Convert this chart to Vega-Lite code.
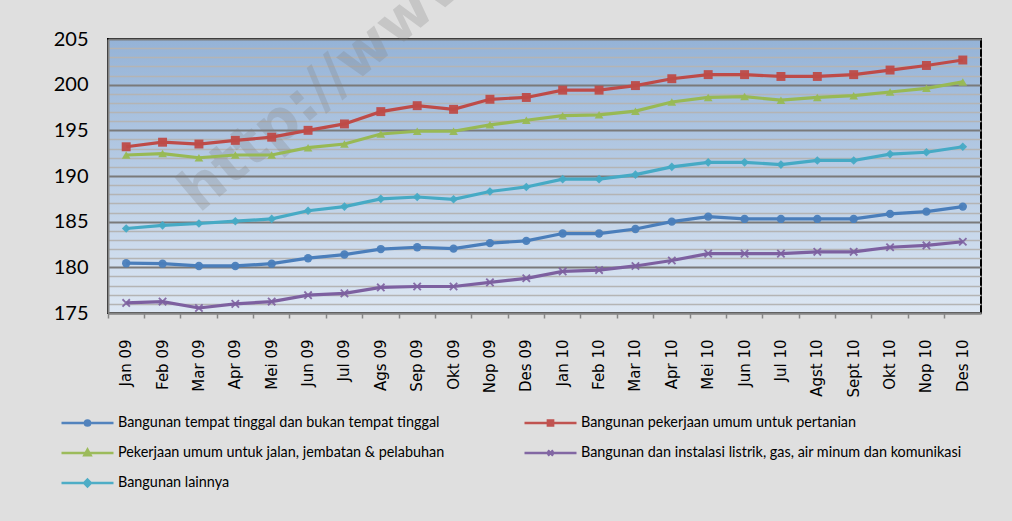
{
  "$schema": "https://vega.github.io/schema/vega-lite/v6.json",
  "width": 873,
  "height": 274,
  "autosize": {"type": "none"},
  "padding": {"left": 108, "top": 39, "right": 31, "bottom": 208},
  "background": "#dfdfdf",
  "view": {
    "stroke": "#000000",
    "strokeWidth": 2,
    "fill": {
      "gradient": "linear",
      "x1": 0, "y1": 0, "x2": 0, "y2": 1,
      "stops": [
        {"offset": 0, "color": "#95b3d7"},
        {"offset": 1, "color": "#dde7f3"}
      ]
    }
  },
  "data": {
    "values": [
      {"month": "Jan 09", "series": "Bangunan tempat tinggal dan bukan tempat tinggal", "value": 180.45},
      {"month": "Feb 09", "series": "Bangunan tempat tinggal dan bukan tempat tinggal", "value": 180.4},
      {"month": "Mar 09", "series": "Bangunan tempat tinggal dan bukan tempat tinggal", "value": 180.15},
      {"month": "Apr 09", "series": "Bangunan tempat tinggal dan bukan tempat tinggal", "value": 180.15},
      {"month": "Mei 09", "series": "Bangunan tempat tinggal dan bukan tempat tinggal", "value": 180.4},
      {"month": "Jun 09", "series": "Bangunan tempat tinggal dan bukan tempat tinggal", "value": 181.0},
      {"month": "Jul 09", "series": "Bangunan tempat tinggal dan bukan tempat tinggal", "value": 181.4},
      {"month": "Ags 09", "series": "Bangunan tempat tinggal dan bukan tempat tinggal", "value": 182.0},
      {"month": "Sep 09", "series": "Bangunan tempat tinggal dan bukan tempat tinggal", "value": 182.2},
      {"month": "Okt 09", "series": "Bangunan tempat tinggal dan bukan tempat tinggal", "value": 182.05},
      {"month": "Nop 09", "series": "Bangunan tempat tinggal dan bukan tempat tinggal", "value": 182.65},
      {"month": "Des 09", "series": "Bangunan tempat tinggal dan bukan tempat tinggal", "value": 182.9},
      {"month": "Jan 10", "series": "Bangunan tempat tinggal dan bukan tempat tinggal", "value": 183.7},
      {"month": "Feb 10", "series": "Bangunan tempat tinggal dan bukan tempat tinggal", "value": 183.7},
      {"month": "Mar 10", "series": "Bangunan tempat tinggal dan bukan tempat tinggal", "value": 184.2},
      {"month": "Apr 10", "series": "Bangunan tempat tinggal dan bukan tempat tinggal", "value": 185.0},
      {"month": "Mei 10", "series": "Bangunan tempat tinggal dan bukan tempat tinggal", "value": 185.55},
      {"month": "Jun 10", "series": "Bangunan tempat tinggal dan bukan tempat tinggal", "value": 185.3},
      {"month": "Jul 10", "series": "Bangunan tempat tinggal dan bukan tempat tinggal", "value": 185.3},
      {"month": "Agst 10", "series": "Bangunan tempat tinggal dan bukan tempat tinggal", "value": 185.3},
      {"month": "Sept 10", "series": "Bangunan tempat tinggal dan bukan tempat tinggal", "value": 185.3},
      {"month": "Okt 10", "series": "Bangunan tempat tinggal dan bukan tempat tinggal", "value": 185.85},
      {"month": "Nop 10", "series": "Bangunan tempat tinggal dan bukan tempat tinggal", "value": 186.1},
      {"month": "Des 10", "series": "Bangunan tempat tinggal dan bukan tempat tinggal", "value": 186.65},

      {"month": "Jan 09", "series": "Bangunan pekerjaan umum untuk pertanian", "value": 193.2},
      {"month": "Feb 09", "series": "Bangunan pekerjaan umum untuk pertanian", "value": 193.7},
      {"month": "Mar 09", "series": "Bangunan pekerjaan umum untuk pertanian", "value": 193.5},
      {"month": "Apr 09", "series": "Bangunan pekerjaan umum untuk pertanian", "value": 193.9},
      {"month": "Mei 09", "series": "Bangunan pekerjaan umum untuk pertanian", "value": 194.25},
      {"month": "Jun 09", "series": "Bangunan pekerjaan umum untuk pertanian", "value": 195.0},
      {"month": "Jul 09", "series": "Bangunan pekerjaan umum untuk pertanian", "value": 195.7},
      {"month": "Ags 09", "series": "Bangunan pekerjaan umum untuk pertanian", "value": 197.05},
      {"month": "Sep 09", "series": "Bangunan pekerjaan umum untuk pertanian", "value": 197.7},
      {"month": "Okt 09", "series": "Bangunan pekerjaan umum untuk pertanian", "value": 197.3},
      {"month": "Nop 09", "series": "Bangunan pekerjaan umum untuk pertanian", "value": 198.4},
      {"month": "Des 09", "series": "Bangunan pekerjaan umum untuk pertanian", "value": 198.6},
      {"month": "Jan 10", "series": "Bangunan pekerjaan umum untuk pertanian", "value": 199.4},
      {"month": "Feb 10", "series": "Bangunan pekerjaan umum untuk pertanian", "value": 199.4},
      {"month": "Mar 10", "series": "Bangunan pekerjaan umum untuk pertanian", "value": 199.9},
      {"month": "Apr 10", "series": "Bangunan pekerjaan umum untuk pertanian", "value": 200.65},
      {"month": "Mei 10", "series": "Bangunan pekerjaan umum untuk pertanian", "value": 201.1},
      {"month": "Jun 10", "series": "Bangunan pekerjaan umum untuk pertanian", "value": 201.1},
      {"month": "Jul 10", "series": "Bangunan pekerjaan umum untuk pertanian", "value": 200.9},
      {"month": "Agst 10", "series": "Bangunan pekerjaan umum untuk pertanian", "value": 200.9},
      {"month": "Sept 10", "series": "Bangunan pekerjaan umum untuk pertanian", "value": 201.1},
      {"month": "Okt 10", "series": "Bangunan pekerjaan umum untuk pertanian", "value": 201.6},
      {"month": "Nop 10", "series": "Bangunan pekerjaan umum untuk pertanian", "value": 202.1},
      {"month": "Des 10", "series": "Bangunan pekerjaan umum untuk pertanian", "value": 202.7},

      {"month": "Jan 09", "series": "Pekerjaan umum untuk jalan, jembatan & pelabuhan", "value": 192.3},
      {"month": "Feb 09", "series": "Pekerjaan umum untuk jalan, jembatan & pelabuhan", "value": 192.45},
      {"month": "Mar 09", "series": "Pekerjaan umum untuk jalan, jembatan & pelabuhan", "value": 192.0},
      {"month": "Apr 09", "series": "Pekerjaan umum untuk jalan, jembatan & pelabuhan", "value": 192.3},
      {"month": "Mei 09", "series": "Pekerjaan umum untuk jalan, jembatan & pelabuhan", "value": 192.3},
      {"month": "Jun 09", "series": "Pekerjaan umum untuk jalan, jembatan & pelabuhan", "value": 193.1},
      {"month": "Jul 09", "series": "Pekerjaan umum untuk jalan, jembatan & pelabuhan", "value": 193.5},
      {"month": "Ags 09", "series": "Pekerjaan umum untuk jalan, jembatan & pelabuhan", "value": 194.6},
      {"month": "Sep 09", "series": "Pekerjaan umum untuk jalan, jembatan & pelabuhan", "value": 194.9},
      {"month": "Okt 09", "series": "Pekerjaan umum untuk jalan, jembatan & pelabuhan", "value": 194.9},
      {"month": "Nop 09", "series": "Pekerjaan umum untuk jalan, jembatan & pelabuhan", "value": 195.6},
      {"month": "Des 09", "series": "Pekerjaan umum untuk jalan, jembatan & pelabuhan", "value": 196.1},
      {"month": "Jan 10", "series": "Pekerjaan umum untuk jalan, jembatan & pelabuhan", "value": 196.6},
      {"month": "Feb 10", "series": "Pekerjaan umum untuk jalan, jembatan & pelabuhan", "value": 196.7},
      {"month": "Mar 10", "series": "Pekerjaan umum untuk jalan, jembatan & pelabuhan", "value": 197.1},
      {"month": "Apr 10", "series": "Pekerjaan umum untuk jalan, jembatan & pelabuhan", "value": 198.1},
      {"month": "Mei 10", "series": "Pekerjaan umum untuk jalan, jembatan & pelabuhan", "value": 198.6},
      {"month": "Jun 10", "series": "Pekerjaan umum untuk jalan, jembatan & pelabuhan", "value": 198.7},
      {"month": "Jul 10", "series": "Pekerjaan umum untuk jalan, jembatan & pelabuhan", "value": 198.3},
      {"month": "Agst 10", "series": "Pekerjaan umum untuk jalan, jembatan & pelabuhan", "value": 198.6},
      {"month": "Sept 10", "series": "Pekerjaan umum untuk jalan, jembatan & pelabuhan", "value": 198.8},
      {"month": "Okt 10", "series": "Pekerjaan umum untuk jalan, jembatan & pelabuhan", "value": 199.2},
      {"month": "Nop 10", "series": "Pekerjaan umum untuk jalan, jembatan & pelabuhan", "value": 199.6},
      {"month": "Des 10", "series": "Pekerjaan umum untuk jalan, jembatan & pelabuhan", "value": 200.3},

      {"month": "Jan 09", "series": "Bangunan dan instalasi listrik, gas, air minum dan komunikasi", "value": 176.1},
      {"month": "Feb 09", "series": "Bangunan dan instalasi listrik, gas, air minum dan komunikasi", "value": 176.25},
      {"month": "Mar 09", "series": "Bangunan dan instalasi listrik, gas, air minum dan komunikasi", "value": 175.55},
      {"month": "Apr 09", "series": "Bangunan dan instalasi listrik, gas, air minum dan komunikasi", "value": 176.0},
      {"month": "Mei 09", "series": "Bangunan dan instalasi listrik, gas, air minum dan komunikasi", "value": 176.25},
      {"month": "Jun 09", "series": "Bangunan dan instalasi listrik, gas, air minum dan komunikasi", "value": 176.95},
      {"month": "Jul 09", "series": "Bangunan dan instalasi listrik, gas, air minum dan komunikasi", "value": 177.15},
      {"month": "Ags 09", "series": "Bangunan dan instalasi listrik, gas, air minum dan komunikasi", "value": 177.8},
      {"month": "Sep 09", "series": "Bangunan dan instalasi listrik, gas, air minum dan komunikasi", "value": 177.9},
      {"month": "Okt 09", "series": "Bangunan dan instalasi listrik, gas, air minum dan komunikasi", "value": 177.9},
      {"month": "Nop 09", "series": "Bangunan dan instalasi listrik, gas, air minum dan komunikasi", "value": 178.35},
      {"month": "Des 09", "series": "Bangunan dan instalasi listrik, gas, air minum dan komunikasi", "value": 178.8},
      {"month": "Jan 10", "series": "Bangunan dan instalasi listrik, gas, air minum dan komunikasi", "value": 179.55},
      {"month": "Feb 10", "series": "Bangunan dan instalasi listrik, gas, air minum dan komunikasi", "value": 179.7},
      {"month": "Mar 10", "series": "Bangunan dan instalasi listrik, gas, air minum dan komunikasi", "value": 180.15},
      {"month": "Apr 10", "series": "Bangunan dan instalasi listrik, gas, air minum dan komunikasi", "value": 180.75},
      {"month": "Mei 10", "series": "Bangunan dan instalasi listrik, gas, air minum dan komunikasi", "value": 181.5},
      {"month": "Jun 10", "series": "Bangunan dan instalasi listrik, gas, air minum dan komunikasi", "value": 181.5},
      {"month": "Jul 10", "series": "Bangunan dan instalasi listrik, gas, air minum dan komunikasi", "value": 181.5},
      {"month": "Agst 10", "series": "Bangunan dan instalasi listrik, gas, air minum dan komunikasi", "value": 181.7},
      {"month": "Sept 10", "series": "Bangunan dan instalasi listrik, gas, air minum dan komunikasi", "value": 181.7},
      {"month": "Okt 10", "series": "Bangunan dan instalasi listrik, gas, air minum dan komunikasi", "value": 182.2},
      {"month": "Nop 10", "series": "Bangunan dan instalasi listrik, gas, air minum dan komunikasi", "value": 182.4},
      {"month": "Des 10", "series": "Bangunan dan instalasi listrik, gas, air minum dan komunikasi", "value": 182.8},

      {"month": "Jan 09", "series": "Bangunan lainnya", "value": 184.25},
      {"month": "Feb 09", "series": "Bangunan lainnya", "value": 184.6},
      {"month": "Mar 09", "series": "Bangunan lainnya", "value": 184.8},
      {"month": "Apr 09", "series": "Bangunan lainnya", "value": 185.05},
      {"month": "Mei 09", "series": "Bangunan lainnya", "value": 185.3},
      {"month": "Jun 09", "series": "Bangunan lainnya", "value": 186.2},
      {"month": "Jul 09", "series": "Bangunan lainnya", "value": 186.65},
      {"month": "Ags 09", "series": "Bangunan lainnya", "value": 187.5},
      {"month": "Sep 09", "series": "Bangunan lainnya", "value": 187.7},
      {"month": "Okt 09", "series": "Bangunan lainnya", "value": 187.45},
      {"month": "Nop 09", "series": "Bangunan lainnya", "value": 188.3},
      {"month": "Des 09", "series": "Bangunan lainnya", "value": 188.8},
      {"month": "Jan 10", "series": "Bangunan lainnya", "value": 189.65},
      {"month": "Feb 10", "series": "Bangunan lainnya", "value": 189.65},
      {"month": "Mar 10", "series": "Bangunan lainnya", "value": 190.15},
      {"month": "Apr 10", "series": "Bangunan lainnya", "value": 191.0},
      {"month": "Mei 10", "series": "Bangunan lainnya", "value": 191.5},
      {"month": "Jun 10", "series": "Bangunan lainnya", "value": 191.5},
      {"month": "Jul 10", "series": "Bangunan lainnya", "value": 191.25},
      {"month": "Agst 10", "series": "Bangunan lainnya", "value": 191.7},
      {"month": "Sept 10", "series": "Bangunan lainnya", "value": 191.7},
      {"month": "Okt 10", "series": "Bangunan lainnya", "value": 192.4},
      {"month": "Nop 10", "series": "Bangunan lainnya", "value": 192.6},
      {"month": "Des 10", "series": "Bangunan lainnya", "value": 193.2}
    ]
  },
  "resolve": {
    "axis": {"x": "independent", "y": "independent"}
  },
  "layer": [
    {
      "data": {"values": [{"watermark": "http://www"}]},
      "mark": {
        "type": "text",
        "font": "DejaVu Sans",
        "fontWeight": "bold",
        "fontSize": 58,
        "angle": -40,
        "align": "left",
        "baseline": "alphabetic",
        "color": "#808080",
        "opacity": 0.26
      },
      "encoding": {
        "text": {"field": "watermark", "type": "nominal"},
        "x": {"datum": "Mar 09", "type": "nominal", "axis": null},
        "y": {"datum": 185.85, "type": "quantitative", "axis": null}
      }
    },
    {
      "mark": {"type": "line", "strokeWidth": 3.2},
      "encoding": {
        "x": {
          "field": "month",
          "type": "nominal",
          "sort": null,
          "scale": {
            "type": "band",
            "paddingInner": 0,
            "paddingOuter": 0,
            "domain": ["Jan 09","Feb 09","Mar 09","Apr 09","Mei 09","Jun 09","Jul 09","Ags 09","Sep 09","Okt 09","Nop 09","Des 09","Jan 10","Feb 10","Mar 10","Apr 10","Mei 10","Jun 10","Jul 10","Agst 10","Sept 10","Okt 10","Nop 10","Des 10"]
          },
          "axis": {
            "orient": "bottom",
            "title": null,
            "ticks": false,
            "domain": true,
            "domainColor": "#868686",
            "domainWidth": 2,
            "grid": false,
            "labelAngle": -90,
            "labelAlign": "right",
            "labelBaseline": "middle",
            "labelPadding": 26,
            "labelFont": "DejaVu Sans",
            "labelFontSize": 15,
            "labelColor": "#000000"
          }
        },
        "y": {
          "field": "value",
          "type": "quantitative",
          "scale": {"domain": [175, 205], "nice": false, "zero": false},
          "axis": {
            "orient": "left",
            "title": null,
            "values": [175,176,177,178,179,180,181,182,183,184,185,186,187,188,189,190,191,192,193,194,195,196,197,198,199,200,201,202,203,204,205],
            "labelExpr": "datum.value % 5 === 0 ? datum.label : ''",
            "ticks": false,
            "grid": true,
            "gridColor": {"condition": {"test": "datum.value % 5 === 0", "value": "#7a7a7a"}, "value": "#b4b4b4"},
            "gridWidth": {"condition": {"test": "datum.value % 5 === 0", "value": 2}, "value": 1.5},
            "domainColor": "#868686",
            "domainWidth": 2,
            "labelFont": "Lato",
            "labelFontSize": 20,
            "labelColor": "#000000",
            "labelPadding": 20
          }
        },
        "color": {
          "field": "series",
          "type": "nominal",
          "scale": {
            "domain": [
              "Bangunan tempat tinggal dan bukan tempat tinggal",
              "Bangunan pekerjaan umum untuk pertanian",
              "Pekerjaan umum untuk jalan, jembatan & pelabuhan",
              "Bangunan dan instalasi listrik, gas, air minum dan komunikasi",
              "Bangunan lainnya"
            ],
            "range": ["#4a7ebb", "#be4b48", "#98b954", "#7d60a0", "#46aac5"]
          }
        }
      }
    },
    {
      "transform": [{"filter": "datum.series === 'Bangunan tempat tinggal dan bukan tempat tinggal'"}],
      "mark": {"type": "point", "filled": true, "size": 70, "opacity": 0.95, "shape": "circle"},
      "encoding": {
        "x": {"field": "month", "type": "nominal", "sort": null, "axis": null},
        "y": {"field": "value", "type": "quantitative", "axis": null},
        "color": {"field": "series", "type": "nominal"}
      }
    },
    {
      "transform": [{"filter": "datum.series === 'Bangunan pekerjaan umum untuk pertanian'"}],
      "mark": {"type": "point", "filled": true, "size": 80, "opacity": 0.95, "shape": "square"},
      "encoding": {
        "x": {"field": "month", "type": "nominal", "sort": null, "axis": null},
        "y": {"field": "value", "type": "quantitative", "axis": null},
        "color": {"field": "series", "type": "nominal"}
      }
    },
    {
      "transform": [{"filter": "datum.series === 'Pekerjaan umum untuk jalan, jembatan & pelabuhan'"}],
      "mark": {"type": "point", "filled": true, "size": 75, "opacity": 0.95, "shape": "triangle-up"},
      "encoding": {
        "x": {"field": "month", "type": "nominal", "sort": null, "axis": null},
        "y": {"field": "value", "type": "quantitative", "axis": null},
        "color": {"field": "series", "type": "nominal"}
      }
    },
    {
      "transform": [{"filter": "datum.series === 'Bangunan dan instalasi listrik, gas, air minum dan komunikasi'"}],
      "mark": {"type": "point", "filled": true, "size": 75, "opacity": 0.9, "shape": "M-1,-0.7L-0.7,-1L0,-0.3L0.7,-1L1,-0.7L0.3,0L1,0.7L0.7,1L0,0.3L-0.7,1L-1,0.7L-0.3,0Z"},
      "encoding": {
        "x": {"field": "month", "type": "nominal", "sort": null, "axis": null},
        "y": {"field": "value", "type": "quantitative", "axis": null},
        "color": {"field": "series", "type": "nominal"}
      }
    },
    {
      "transform": [{"filter": "datum.series === 'Bangunan lainnya'"}],
      "mark": {"type": "point", "filled": true, "size": 75, "opacity": 0.95, "shape": "diamond"},
      "encoding": {
        "x": {"field": "month", "type": "nominal", "sort": null, "axis": null},
        "y": {"field": "value", "type": "quantitative", "axis": null},
        "color": {"field": "series", "type": "nominal"}
      }
    },
    {
      "transform": [{"filter": "false"}],
      "mark": {"type": "point", "filled": true},
      "encoding": {
        "x": {
          "field": "month",
          "type": "nominal",
          "sort": null,
          "axis": {
            "orient": "bottom",
            "title": null,
            "bandPosition": 0,
            "labels": false,
            "ticks": true,
            "tickSize": 5,
            "tickColor": "#868686",
            "tickWidth": 1.5,
            "domain": false,
            "grid": false
          }
        },
        "y": {"field": "value", "type": "quantitative", "axis": null},
        "color": {
          "field": "series",
          "type": "nominal",
          "legend": {
            "title": null,
            "orient": "none",
            "legendX": -48,
            "legendY": 376,
            "direction": "horizontal",
            "columns": 2,
            "columnPadding": 78,
            "rowPadding": 14,
            "clipHeight": 16,
            "padding": 0,
            "symbolSize": 2704,
            "symbolStrokeWidth": 2.5,
            "symbolOffset": 0,
            "labelOffset": 3,
            "labelFont": "Lato",
            "labelFontSize": 14.4,
            "labelColor": "#000000",
            "labelLimit": 600
          }
        },
        "shape": {
          "field": "series",
          "type": "nominal",
          "scale": {
            "domain": [
              "Bangunan tempat tinggal dan bukan tempat tinggal",
              "Bangunan pekerjaan umum untuk pertanian",
              "Pekerjaan umum untuk jalan, jembatan & pelabuhan",
              "Bangunan dan instalasi listrik, gas, air minum dan komunikasi",
              "Bangunan lainnya"
            ],
            "range": [
              "M-1,0H1M0.1,0A0.1,0.1 0 1,1 -0.1,0A0.1,0.1 0 1,1 0.1,0Z",
              "M-1,0H1M-0.1,-0.1H0.1V0.1H-0.1Z",
              "M-1,0H1M0,-0.13L0.12,0.09H-0.12Z",
              "M-1,0H1M-0.1,-0.1L0.1,0.1M-0.1,0.1L0.1,-0.1",
              "M-1,0H1M0,-0.13L0.13,0L0,0.13L-0.13,0Z"
            ]
          },
          "legend": {
            "title": null,
            "orient": "none",
            "legendX": -48,
            "legendY": 376,
            "direction": "horizontal",
            "columns": 2,
            "columnPadding": 78,
            "rowPadding": 14,
            "clipHeight": 16,
            "padding": 0,
            "symbolSize": 2704,
            "symbolStrokeWidth": 2.5,
            "symbolOffset": 0,
            "labelOffset": 3,
            "labelFont": "Lato",
            "labelFontSize": 14.4,
            "labelColor": "#000000",
            "labelLimit": 600
          }
        }
      }
    }
  ]
}
